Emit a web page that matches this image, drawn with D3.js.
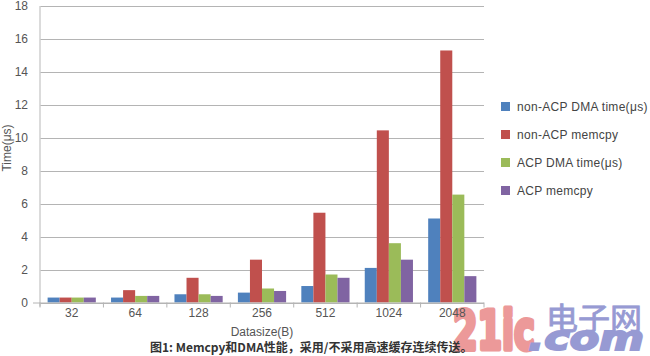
<!DOCTYPE html>
<html><head><meta charset="utf-8">
<script src="https://cdn.jsdelivr.net/npm/d3@7"></script>
<style>body{margin:0;background:#fff;}svg{display:block;}</style>
</head><body>
<script>
const categories = ["32","64","128","256","512","1024","2048"];
const seriesNames = ["non-ACP DMA time(μs)","non-ACP memcpy","ACP DMA time(μs)","ACP memcpy"];
const nonAcpDma    = [0.3, 0.3, 0.5, 0.6, 1.0, 2.1, 5.1];
const nonAcpMemcpy = [0.3, 0.75, 1.5, 2.6, 5.45, 10.45, 15.3];
const acpDma       = [0.3, 0.4, 0.5, 0.85, 1.7, 3.6, 6.55];
const acpMemcpy    = [0.3, 0.4, 0.4, 0.7, 1.5, 2.6, 1.6];
const yTicks = [0,2,4,6,8,10,12,14,16,18];
const colors = ["#4f81bd","#c0504d","#9bbb59","#8064a2"];
const seriesValues = [nonAcpDma, nonAcpMemcpy, acpDma, acpMemcpy];

const W=650,H=356;
const svg=d3.select("body").append("svg").attr("width",W).attr("height",H);
const L=40,R=484,T=6,B=302.5;
const x=d3.scaleBand().domain(categories).range([L,R]).paddingInner(0.24).paddingOuter(0.12);
const xs=d3.scaleBand().domain(d3.range(4)).range([0,x.bandwidth()]);
const y=d3.scaleLinear().domain([0,18]).range([B,T]);
const font="'Liberation Sans', Arial, sans-serif";

// gridlines
const ya=svg.append("g").attr("transform",`translate(${L},0)`)
 .call(d3.axisLeft(y).tickValues(yTicks).tickSize(7).tickPadding(5));
ya.select(".domain").remove();
ya.selectAll(".tick line").attr("stroke","#b4b4b4").attr("x2",R-L).attr("shape-rendering","crispEdges");
ya.selectAll(".tick text").attr("fill","#555").attr("font-size",12).attr("font-family",font);
svg.append("line").attr("x1",L).attr("x2",L).attr("y1",T).attr("y2",B+4).attr("stroke","#cfcfcf").attr("stroke-width",1.5);

// bars
categories.forEach((c,i)=>{
  seriesValues.forEach((vals,s)=>{
    svg.append("rect").attr("x",x(c)+xs(s)).attr("width",xs.bandwidth())
      .attr("y",y(vals[i])).attr("height",y(0)-y(vals[i])).attr("fill",colors[s]);
  });
});

// x axis
const xTickPos=[L].concat(categories.map(c=>x(c)+x.bandwidth()+x.step()*x.paddingInner()/2));
xTickPos[xTickPos.length-1]=R;
svg.append("line").attr("x1",L-7).attr("x2",R).attr("y1",B+0.5).attr("y2",B+0.5).attr("stroke","#b4b4b4");
xTickPos.forEach(p=>svg.append("line").attr("x1",p).attr("x2",p).attr("y1",B).attr("y2",B+5).attr("stroke","#b4b4b4"));

// watermark (semi-transparent, under labels)
const wm=svg.append("g").attr("opacity",0.9);
wm.append("text").attr("x",453).attr("y",349).attr("fill","#ea8f8f")
  .attr("stroke","#ea8f8f").attr("stroke-width",5).attr("stroke-linejoin","round")
  .attr("font-size",54).attr("font-weight","bold").attr("font-family","'DejaVu Sans', sans-serif")
  .attr("textLength",82).attr("lengthAdjust","spacingAndGlyphs").text("21ic");
wm.append("text").attr("x",546).attr("y",329).attr("fill","#8c90cf")
  .attr("stroke","#8c90cf").attr("stroke-width",0.8)
  .attr("font-size",30).attr("font-family","'Noto Sans CJK SC', sans-serif")
  .attr("textLength",96).attr("lengthAdjust","spacingAndGlyphs").text("电子网");
wm.append("text").attr("x",528).attr("y",350).attr("fill","#8c90cf")
  .attr("stroke","#8c90cf").attr("stroke-width",2)
  .attr("font-size",34).attr("font-weight","bold").attr("font-style","italic").attr("font-family","'DejaVu Sans', sans-serif")
  .attr("textLength",116).attr("lengthAdjust","spacingAndGlyphs").text(".com");

categories.forEach(c=>svg.append("text").attr("x",x(c)+x.bandwidth()/2).attr("y",317)
  .attr("text-anchor","middle").attr("fill","#555").attr("font-size",12).attr("font-family",font).text(c));

svg.append("text").attr("x",262).attr("y",336).attr("text-anchor","middle").attr("fill","#555")
  .attr("font-size",12).attr("font-family",font).text("Datasize(B)");
svg.append("text").attr("transform","translate(11,148) rotate(-90)").attr("text-anchor","middle")
  .attr("fill","#555").attr("font-size",12).attr("font-family",font).text("Time(μs)");

// legend
seriesNames.forEach((n,i)=>{
  const yy=106.5+i*28;
  svg.append("rect").attr("x",501).attr("y",yy-4.5).attr("width",9).attr("height",9).attr("fill",colors[i]);
  svg.append("text").attr("x",517).attr("y",yy+4).attr("fill","#444").attr("font-size",12)
    .attr("letter-spacing",0.3).attr("font-family",font).text(n);
});

// caption
svg.append("text").attr("x",150).attr("y",352).attr("fill","#333").attr("font-size",12)
  .attr("font-weight","bold").attr("font-family","'Noto Sans CJK SC', sans-serif")
  .text("图1: Memcpy和DMA性能，采用/不采用高速缓存连续传送。");
</script>
</body></html>
